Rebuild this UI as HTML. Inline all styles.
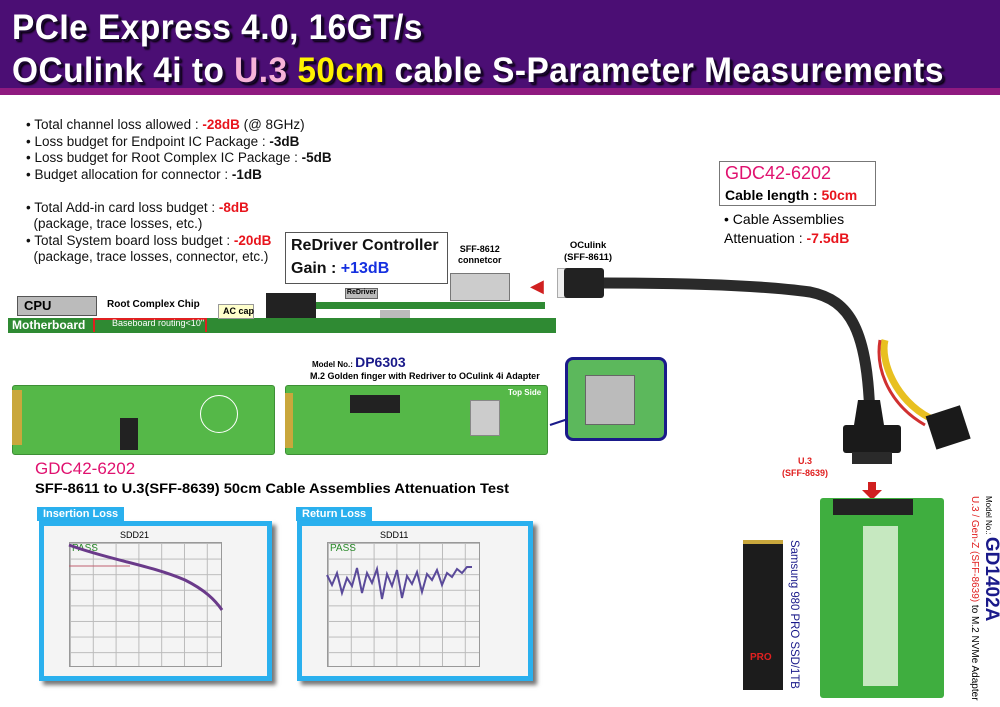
<!DOCTYPE html>
<html><head><meta charset="utf-8"><style>
*{margin:0;padding:0;box-sizing:border-box}
body{width:1000px;height:707px;background:#fff;position:relative;overflow:hidden;font-family:"Liberation Sans",Arial,sans-serif}
.a{position:absolute}
.t{position:absolute;white-space:nowrap}
.hd{font-family:"Liberation Sans",sans-serif;font-weight:bold;color:#fff;font-size:35px;transform:scaleX(0.955);transform-origin:left;text-shadow:2px 2px 0 #1a0630,3px 3px 2px #000;letter-spacing:0.5px}
.b{font-size:13.5px;color:#111;line-height:16.5px}
.r{color:#e8141c;font-weight:bold}
.k{font-weight:bold}
.green{background:#2f8a33}
.pcb{background:#55b848;border:1px solid #3d8f35;border-radius:3px}
.chart{background:#2ab0ee;box-shadow:4px 4px 4px #777}
.grid{background-color:#f4f4f4;background-image:linear-gradient(#bbb 1px,transparent 1px),linear-gradient(90deg,#bbb 1px,transparent 1px);background-size:22.8px 15.6px}
.lab{background:#2ab0ee;color:#fff;font-weight:bold;font-size:11px;padding:1px 6px}
</style></head><body>
<div class="a" style="left:0;top:0;width:1000px;height:90px;background:#4b0e74"></div>
<div class="a" style="left:0;top:88px;width:1000px;height:7px;background:#8f1a80"></div>
<div class="t hd" style="left:12px;top:8px">PCIe Express 4.0, 16GT/s</div>
<div class="t hd" style="left:12px;top:51px">OCulink 4i to <span style="color:#f7b3d8">U.3</span> <span style="color:#fff200">50cm</span> cable S-Parameter Measurements</div>

<div class="t b" style="left:26px;top:117px">• Total channel loss allowed : <span class="r">-28dB</span> (@ 8GHz)<br>• Loss budget for Endpoint IC Package : <span class="k">-3dB</span><br>• Loss budget for Root Complex IC Package : <span class="k">-5dB</span><br>• Budget allocation for connector : <span class="k">-1dB</span><br><br>• Total Add-in card loss budget : <span class="r">-8dB</span><br>&nbsp;&nbsp;(package, trace losses, etc.)<br>• Total System board loss budget : <span class="r">-20dB</span><br>&nbsp;&nbsp;(package, trace losses, connector, etc.)</div>

<div class="a" style="left:285px;top:232px;width:163px;height:52px;border:1.5px solid #555;background:#fff"></div>
<div class="t k" style="left:291px;top:237px;font-size:16px;color:#111">ReDriver Controller</div>
<div class="t k" style="left:291px;top:260px;font-size:16px;color:#111">Gain : <span style="color:#1530e0">+13dB</span></div>
<div class="t k" style="left:458px;top:244px;font-size:9px;text-align:center;line-height:11px">SFF-8612<br>connetcor</div>
<div class="t k" style="left:564px;top:240px;font-size:9.5px;text-align:center;line-height:12px">OCulink<br>(SFF-8611)</div>
<div class="a" style="left:450px;top:273px;width:60px;height:28px;background:#ccc;border:1px solid #777"></div>
<div class="t" style="left:530px;top:276px;color:#d02020;font-size:18px">◀</div>
<div class="a" style="left:557px;top:268px;width:12px;height:30px;background:#eee;border:1px solid #aaa"></div>
<div class="a" style="left:564px;top:268px;width:40px;height:30px;background:#222;border-radius:3px"></div>

<div class="a green" style="left:8px;top:318px;width:548px;height:15px"></div>
<div class="t k" style="left:12px;top:318px;color:#fff;font-size:12px">Motherboard</div>
<div class="a" style="left:93px;top:318px;width:114px;height:14px;border:2px solid #e02020;border-bottom:none"></div>
<div class="t" style="left:112px;top:318px;color:#fff;font-size:9px">Baseboard routing&lt;10"</div>
<div class="a green" style="left:300px;top:302px;width:245px;height:7px"></div>
<div class="a" style="left:17px;top:296px;width:80px;height:20px;background:#bbb;border:1px solid #555"></div>
<div class="t k" style="left:24px;top:298px;font-size:13px">CPU</div>
<div class="t k" style="left:107px;top:299px;font-size:10px">Root Complex Chip</div>
<div class="a" style="left:218px;top:304px;width:36px;height:15px;background:#ffffcc;border:1px solid #999"></div>
<div class="t k" style="left:223px;top:306px;font-size:9px">AC cap</div>
<div class="a" style="left:266px;top:293px;width:50px;height:25px;background:#222"></div>
<div class="a" style="left:345px;top:288px;width:33px;height:11px;background:#bbb;border:1px solid #666;font-size:7px;font-weight:bold;text-align:center">ReDriver</div>
<div class="a" style="left:380px;top:310px;width:30px;height:8px;background:#bbb"></div>

<svg class="a" style="left:0;top:0" width="1000" height="707">
<path d="M604,283 C680,283 760,285 810,292 C850,300 868,330 870,420" fill="none" stroke="#2a2a2a" stroke-width="11"/>
<path d="M885,340 C880,360 895,400 930,418" fill="none" stroke="#e8c020" stroke-width="7"/>
<path d="M880,340 C875,370 890,405 925,425" fill="none" stroke="#d03030" stroke-width="3"/>
<rect x="930" y="410" width="36" height="35" fill="#1a1a1a" transform="rotate(-18 948 427)"/>
<path d="M858,400 L880,400 L884,425 L854,425 Z" fill="#1a1a1a"/>
<rect x="843" y="425" width="58" height="28" rx="3" fill="#1a1a1a"/>
<rect x="852" y="452" width="40" height="12" fill="#2a2a2a"/>
<path d="M868,482 L868,490 L862,490 L872,500 L882,490 L876,490 L876,482Z" fill="#d02020"/>
<line x1="550" y1="425" x2="580" y2="415" stroke="#1a1a8a" stroke-width="2"/>
</svg>

<div class="a" style="left:719px;top:161px;width:157px;height:45px;border:1.5px solid #777"></div>
<div class="t" style="left:725px;top:163px;font-size:18px;color:#e0116f">GDC42-6202</div>
<div class="t k" style="left:725px;top:187px;font-size:14px">Cable length : <span class="r">50cm</span></div>
<div class="t" style="left:724px;top:210px;font-size:14px;line-height:19px">• Cable Assemblies<br>Attenuation : <span class="r">-7.5dB</span></div>
<div class="t k" style="left:782px;top:455px;font-size:9px;color:#e02020;text-align:center;line-height:12px">U.3<br>(SFF-8639)</div>

<div class="a pcb" style="left:12px;top:385px;width:263px;height:70px"></div>
<div class="a" style="left:12px;top:390px;width:10px;height:55px;background:#c9a73c"></div>
<div class="a" style="left:120px;top:418px;width:18px;height:32px;background:#222"></div>
<div class="a" style="left:200px;top:395px;width:38px;height:38px;border:1.5px solid #fff;border-radius:50%"></div>
<div class="a pcb" style="left:285px;top:385px;width:263px;height:70px"></div>
<div class="a" style="left:285px;top:393px;width:8px;height:55px;background:#c9a73c"></div>
<div class="a" style="left:350px;top:395px;width:50px;height:18px;background:#222"></div>
<div class="a" style="left:470px;top:400px;width:30px;height:36px;background:#ccc;border:1px solid #888"></div>
<div class="t k" style="left:508px;top:388px;font-size:8px;color:#fff">Top Side</div>
<div class="t k" style="left:312px;top:354px;font-size:8px">Model No.: <span style="font-size:14px;color:#1a1a8a">DP6303</span></div>
<div class="t k" style="left:310px;top:371px;font-size:9px">M.2 Golden finger with Redriver to OCulink 4i Adapter</div>
<div class="a" style="left:565px;top:357px;width:102px;height:84px;border:3px solid #1a1a8a;border-radius:8px;background:#5cb85c"></div>
<div class="a" style="left:585px;top:375px;width:50px;height:50px;background:#bbb;border:1px solid #666"></div>

<div class="t" style="left:35px;top:459px;font-size:17px;color:#e0116f">GDC42-6202</div>
<div class="t k" style="left:35px;top:480px;font-size:14px;transform:scaleX(1.05);transform-origin:left">SFF-8611 to U.3(SFF-8639) 50cm Cable Assemblies Attenuation Test</div>

<div class="t lab" style="left:37px;top:507px">Insertion Loss</div>
<div class="a chart" style="left:39px;top:521px;width:233px;height:160px"></div>
<div class="a" style="left:44px;top:526px;width:223px;height:150px;background:#f4f4f4"></div>
<div class="a grid" style="left:69px;top:542px;width:153px;height:125px;border:1px solid #999"></div>
<div class="t" style="left:120px;top:530px;font-size:9px">SDD21</div>
<div class="t" style="left:72px;top:543px;font-size:10px;color:#2a8a2a">PASS</div>
<div class="t lab" style="left:296px;top:507px">Return Loss</div>
<div class="a chart" style="left:297px;top:521px;width:236px;height:160px"></div>
<div class="a" style="left:302px;top:526px;width:226px;height:150px;background:#f4f4f4"></div>
<div class="a grid" style="left:327px;top:542px;width:153px;height:125px;border:1px solid #999"></div>
<div class="t" style="left:380px;top:530px;font-size:9px">SDD11</div>
<div class="t" style="left:330px;top:543px;font-size:10px;color:#2a8a2a">PASS</div>
<svg class="a" style="left:0;top:0" width="1000" height="707">
<path d="M69,545 C110,560 150,565 185,580 C205,590 215,600 222,610" fill="none" stroke="#6a3a8a" stroke-width="3"/>
<line x1="69" y1="566" x2="130" y2="566" stroke="#c06070" stroke-width="1"/>
<path d="M327,575 l5,10 l5,-12 l5,20 l5,-15 l5,8 l5,-18 l5,25 l5,-20 l5,10 l5,-14 l5,30 l5,-25 l5,12 l5,-16 l5,28 l5,-22 l5,8 l5,-12 l5,20 l5,-18 l5,6 l5,-10 l5,15 l5,-12 l5,4 l5,-8 l5,4 l5,-6 l5,0" fill="none" stroke="#5a4a9a" stroke-width="2"/>
</svg>

<div class="a" style="left:743px;top:540px;width:40px;height:150px;background:#1c1c1c;border-top:4px solid #c9a73c"></div>
<div class="t" style="left:750px;top:652px;font-size:10px;color:#e02020;font-weight:bold">PRO</div>
<div class="t" style="top:540px;font-size:12px;color:#1a1a8a;transform:rotate(90deg) scaleX(0.95);transform-origin:left top;left:802px">Samsung 980 PRO SSD/1TB</div>
<div class="a" style="left:820px;top:498px;width:124px;height:200px;background:#3fae3f;border-radius:3px"></div>
<div class="a" style="left:833px;top:499px;width:80px;height:16px;background:#222"></div>
<div class="a" style="left:863px;top:526px;width:35px;height:160px;background:#c6e8c0"></div>
<div class="t" style="left:998px;top:496px;transform:rotate(90deg);transform-origin:left top;font-size:10px;line-height:14px">
<div style="font-size:8px">Model No.: <b style="font-size:19px;color:#1a1a8a">GD1402A</b></div>
<div><span style="color:#e02020">U.3 / Gen-Z (SFF-8639)</span> to M.2 NVMe Adapter</div></div>
</body></html>
